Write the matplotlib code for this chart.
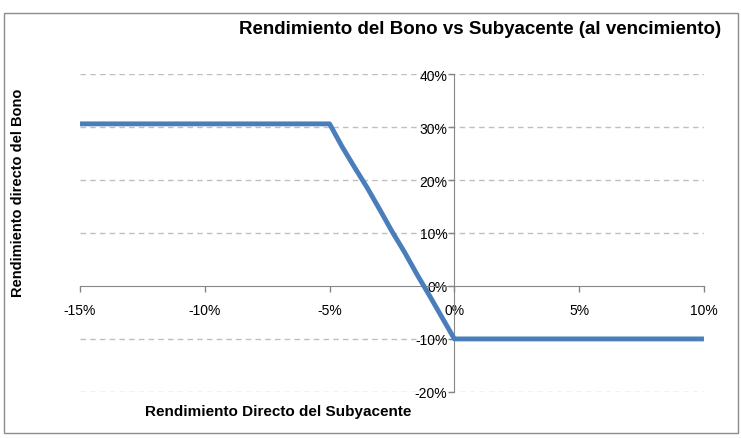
import matplotlib

matplotlib.use("Agg")
import matplotlib.pyplot as plt
from matplotlib.patches import Rectangle

# underlying return (%) and bond return (%)
subyacente = [-15, -14, -13, -12, -11, -10, -9, -8, -7, -6, -5,
              -4.5, -4, -3.5, -3, -2.5, -2, -1.5, -1, -0.5, 0,
              1, 2, 3, 4, 5, 6, 7, 8, 9, 10]
bono = [30.6, 30.6, 30.6, 30.6, 30.6, 30.6, 30.6, 30.6, 30.6, 30.6, 30.6,
        26.3, 22.4, 18.6, 14.5, 10.3, 6.4, 2.2, -1.8, -5.9, -10.0,
        -10, -10, -10, -10, -10, -10, -10, -10, -10, -10]
xticks = [-15, -10, -5, 0, 5, 10]
yticks = [-20, -10, 0, 10, 20, 30, 40]

plt.rcParams["font.family"] = ["Liberation Sans", "DejaVu Sans"]

fig = plt.figure(figsize=(7.41, 4.39), dpi=100)
fig.patches.append(Rectangle((0.006, 0.012), 0.99, 0.955, transform=fig.transFigure,
                             fill=False, edgecolor="#8c8c8c", linewidth=1.0))
ax = fig.add_axes([0.108, 0.105, 0.842, 0.724])

ax.plot(subyacente, bono, color="#4a7ebb", linewidth=3.5, solid_capstyle="butt", zorder=3)

ax.set_xlim(-15, 10)
ax.set_ylim(-20, 40)
ax.set_xticks(xticks)
ax.set_yticks(yticks)
ax.set_xticklabels([f"{v}%" for v in xticks], fontsize=12)
ax.set_yticklabels([f"{v}%" for v in yticks], fontsize=12)

for y in yticks:
    if y != 0:
        ax.axhline(y, color="#bfbfbf", linestyle=(0, (4, 3)), linewidth=1.0, zorder=1)

for s in ("top", "right"):
    ax.spines[s].set_visible(False)
ax.spines["left"].set_position(("data", 0))
ax.spines["bottom"].set_position(("data", 0))
ax.spines["left"].set_color("#868686")
ax.spines["bottom"].set_color("#868686")
ax.tick_params(axis="both", colors="#868686", labelcolor="black", length=4, width=1)
ax.tick_params(axis="x", direction="out", pad=8)
ax.tick_params(axis="y", direction="out", pad=1)

fig.text(0.648, 0.932, "Rendimiento del Bono vs Subyacente (al vencimiento)",
         ha="center", va="center", fontsize=13.5, fontweight="bold")
fig.text(0.375, 0.062, "Rendimiento Directo del Subyacente",
         ha="center", va="center", fontsize=11, fontweight="bold")
fig.text(0.024, 0.56, "Rendimiento directo del Bono", rotation=90,
         ha="center", va="center", fontsize=10.5, fontweight="bold")

fig.savefig("out.png", dpi=100)
